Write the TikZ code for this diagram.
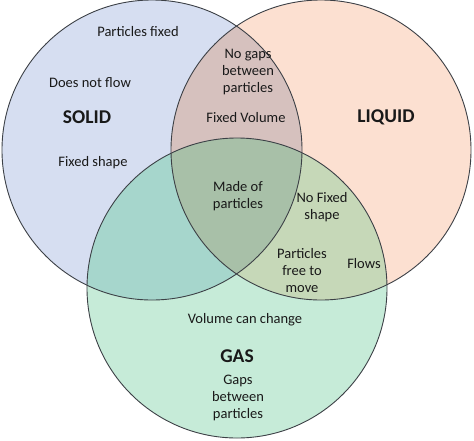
\documentclass[tikz,border=0pt]{standalone}
\usepackage{fontspec}
\setmainfont{Carlito}
\definecolor{solidc}{RGB}{214,222,241}
\definecolor{liquidc}{RGB}{252,224,209}
\definecolor{gasc}{RGB}{198,235,216}
\definecolor{slc}{RGB}{214,193,190}
\definecolor{sgc}{RGB}{166,214,204}
\definecolor{lgc}{RGB}{198,216,184}
\definecolor{slgc}{RGB}{168,192,168}
\definecolor{edge}{RGB}{60,64,70}
\tikzset{
  lbl/.style={font=\fontsize{14.5}{17}\selectfont, align=center, text=black!90, inner sep=0pt},
  ttl/.style={font=\fontsize{19.5}{22}\selectfont\bfseries, text=black!90, inner sep=0pt},
  ring/.style={draw=edge, line width=0.9pt}
}
\begin{document}
\begin{tikzpicture}[x=1pt,y=-1pt]
\useasboundingbox (0,0) rectangle (474,440);
\def\Sc{(152,150) circle (150)}
\def\Lc{(321,150) circle (150)}
\def\Gc{(237,288) circle (150)}
\fill[solidc] \Sc;
\fill[liquidc] \Lc;
\fill[gasc] \Gc;
\begin{scope}\clip \Sc; \fill[slc] \Lc; \end{scope}
\begin{scope}\clip \Sc; \fill[sgc] \Gc; \end{scope}
\begin{scope}\clip \Lc; \fill[lgc] \Gc; \end{scope}
\begin{scope}\clip \Sc; \clip \Lc; \fill[slgc] \Gc; \end{scope}
\draw[ring] \Sc;
\draw[ring] \Lc;
\draw[ring] \Gc;
% solid
\node[lbl] (pf) at (138,32) {Particles fixed};
\node[lbl] (dnf) at (90,83) {Does not flow};
\node[ttl] (solid) at (87,117) {SOLID};
\node[lbl] (fs) at (93,163) {Fixed shape};
% solid-liquid
\node[lbl] (ng) at (248,72) {No gaps\\between\\particles};
\node[lbl] (fv) at (246,118) {Fixed Volume};
% liquid
\node[ttl] (liquid) at (386,117) {LIQUID};
% all
\node[lbl] (mp) at (238,196) {Made of\\particles};
% liquid-gas
\node[lbl] (nfs) at (322,207) {No Fixed\\shape};
\node[lbl] (pftm) at (302,271) {Particles\\free to\\move};
\node[lbl] (fl) at (364,264) {Flows};
% gas
\node[lbl] (vcc) at (245,320) {Volume can change};
\node[ttl] (gas) at (237,356) {GAS};
\node[lbl] (gbp) at (238,398) {Gaps\\between\\particles};
\end{tikzpicture}
\end{document}
